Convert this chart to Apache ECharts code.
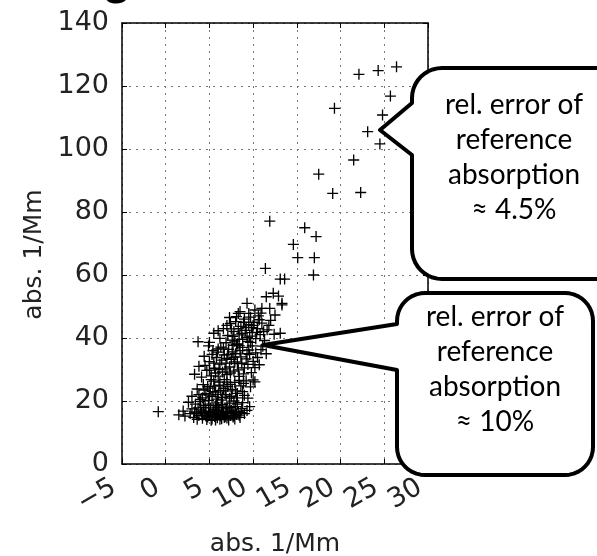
<!DOCTYPE html>
<html>
<head>
<meta charset="utf-8">
<script src="https://cdn.jsdelivr.net/npm/echarts@6/dist/echarts.min.js"></script>
<style>html,body{margin:0;padding:0;background:#fff}#c{width:597px;height:556px}</style>
</head>
<body>
<div id="c"></div>
<script>
// absorption values (x) vs reference absorption (y), 1/Mm
const pointsBottom = [
  [-0.85,16.6],[1.5,15.6],[2.2,15.2],[2.8,16.0],[3.2,14.8],[3.5,16.1],[3.8,15.4],[4.0,17.2],[4.2,14.5],[4.4,15.9],
  [4.6,16.8],[4.8,14.9],[5.0,15.5],[5.1,17.8],[5.3,14.3],[5.4,16.3],[5.6,15.1],[5.7,18.5],[5.9,14.7],[6.0,16.0],
  [6.1,17.0],[6.3,15.3],[6.4,14.4],[6.5,18.9],[6.6,16.6],[6.8,15.0],[6.9,17.5],[7.0,14.6],[7.1,16.2],[7.3,19.3],
  [7.4,15.4],[7.5,17.1],[7.7,14.9],[7.8,16.5],[8.0,18.2],[8.1,15.7],[8.3,16.6],[8.5,14.8],[8.7,17.6],[9.0,16.0],
  [9.6,18.2],[4.5,18.6],[5.8,19.4],[3.9,19.9],[6.2,14.2],[7.2,14.0],[5.2,13.9],[4.7,14.1],[8.8,19.5],[2.6,19.6],[3.4,19.0],
  [2.0,16.8],[3.0,17.5],[3.6,14.2],[4.1,16.4],[4.9,16.2],[5.5,17.3],[6.2,15.7],[6.7,14.8],[7.6,16.0],[7.9,14.3],
  [8.4,15.5],[5.3,15.6],[6.4,17.8],[7.0,18.4],[4.3,18.0],[8.2,19.0],[9.3,17.0],[3.3,16.5],[5.8,16.8],[6.9,16.4],
  [4.6,15.2],[5.1,16.6],[5.7,14.0],[6.5,15.6],[7.3,17.9],[7.8,15.2],[8.6,16.3],[3.7,17.8],[4.9,19.0],[6.0,18.0]
];
const pointsLow = [
  [3.0,21.5],[3.6,23.8],[4.0,20.5],[4.3,25.2],[4.6,22.3],[4.9,20.2],[5.1,24.1],[5.3,21.4],[5.5,26.3],[5.7,22.8],
  [5.9,20.6],[6.1,25.0],[6.3,23.3],[6.5,21.2],[6.7,26.8],[6.9,22.0],[7.1,24.6],[7.3,20.9],[7.6,23.7],[7.9,25.9],
  [8.2,22.4],[8.6,24.8],[9.0,21.8],[9.4,20.9],[10.0,26.7],[10.2,26.1],
  [3.8,22.0],[4.4,23.5],[5.0,21.9],[5.6,24.7],[6.0,22.1],[6.6,24.0],[7.0,26.0],[7.5,21.5],[8.0,23.2],[8.4,26.5],
  [8.8,23.0],[9.7,24.5],[5.2,26.8],[6.4,20.3],[7.8,20.0],[9.2,26.4],
  [4.2,21.0],[5.4,23.0],[6.2,26.0],[6.8,23.2],[7.4,25.3],[8.1,21.0],[8.9,25.6],[4.8,24.6]
];
const pointsMid = [
  [3.3,28.5],[3.8,31.0],[4.1,27.6],[4.4,34.2],[4.7,29.7],[5.0,32.5],[5.2,28.0],[5.4,36.0],[5.6,30.4],[5.8,33.8],
  [6.0,27.9],[6.2,31.7],[6.3,37.1],[6.5,29.2],[6.7,34.6],[6.9,32.0],[7.0,28.4],[7.2,36.4],[7.3,30.8],[7.5,33.2],
  [7.7,37.7],[7.8,29.5],[8.0,35.0],[8.2,31.9],[8.4,27.8],[8.6,34.0],[8.8,37.0],[9.0,30.5],[9.2,33.4],[9.5,36.2],
  [9.8,29.0],[10.0,32.6],[10.3,35.3],[10.7,31.5],[11.1,37.4],[4.9,37.5],[5.9,35.5],[8.3,29.9],
  [4.5,31.3],[5.3,34.8],[6.1,30.0],[6.6,36.8],[7.0,33.5],[7.4,28.9],[7.9,32.4],[8.5,36.0],[8.9,28.6],[9.4,31.6],
  [9.9,37.5],[10.5,33.8],[6.4,33.0],[7.6,35.6],[8.1,38.0],[5.0,29.8],[9.6,34.8],[10.9,36.3],[11.5,35.0],
  [5.5,32.0],[6.8,30.2],[7.1,34.8],[8.7,32.0],[9.3,35.0],[6.0,36.5],[7.8,33.9],[8.4,37.6],[10.2,30.6],[5.7,28.9]
];
const pointsUpperMid = [
  [3.7,38.8],[6.2,39.9],[5.5,41.5],[6.6,43.0],[6.9,38.5],[7.1,40.8],[7.4,44.6],[7.6,39.3],[7.8,42.1],[8.0,45.2],
  [8.2,38.1],[8.4,41.0],[8.6,43.7],[8.8,39.6],[9.0,46.0],[9.1,42.4],[9.3,40.2],[9.5,44.2],[9.7,38.6],[9.9,41.7],
  [10.1,45.0],[10.3,39.8],[10.5,43.0],[10.8,41.1],[11.0,44.7],[11.3,39.2],[11.6,42.6],[12.0,45.6],[13.1,41.5],[7.3,46.5],
  [8.3,47.8],[9.3,51.0],[8.5,48.4],[10.2,48.9],[11.0,49.4],[11.9,49.4],[13.3,51.0],[11.5,53.1],[12.3,54.2],[12.9,53.3],
  [13.3,50.5],[10.6,47.0],[9.7,46.6],[12.5,47.3],
  [5.0,38.6],[6.0,42.3],[7.0,44.0],[7.7,40.5],[8.3,43.0],[8.9,45.0],[9.4,38.9],[9.8,43.3],[10.4,41.8],[10.7,45.8],
  [11.2,42.0],[11.8,44.0],[12.4,41.2],[8.1,46.8],[9.5,47.8],[10.9,47.9],[7.9,39.0],
  [8.7,41.5],[9.6,40.6],[10.0,44.0],[9.2,43.4],[7.5,42.9]
];
const pointsHigh = [
  [13.1,58.7],[13.6,58.7],[11.4,62.1],[16.9,60.0],[15.1,65.5],[17.0,65.5],[14.6,69.7],[17.2,72.2],[15.9,75.0],[11.9,77.1],
  [19.1,85.9],[22.3,86.2],[17.5,92.0],[21.5,96.5],[24.5,101.6],[23.1,105.5],[24.8,110.8],[19.3,112.9],[25.7,116.8],[22.1,123.7],
  [24.3,124.9],[26.4,126.1]
];
const xTicks = {min: -5, max: 30, step: 5};
const yTicks = {min: 0, max: 140, step: 20};
const axisName = 'abs. 1/Mm';
const callout1 = ['rel. error of', 'reference', 'absorption', '≈ 4.5%'];
const callout2 = ['rel. error of', 'reference', 'absorption', '≈ 10%'];

const allPoints = [].concat(pointsBottom, pointsLow, pointsMid, pointsUpperMid, pointsHigh);

const chart = echarts.init(document.getElementById('c'), null, {renderer: 'canvas'});
const F = 'DejaVu Sans';
const plus = 'path://M-0.12,-1 L0.12,-1 L0.12,-0.12 L1,-0.12 L1,0.12 L0.12,0.12 L0.12,1 L-0.12,1 L-0.12,0.12 L-1,0.12 L-1,-0.12 L-0.12,-0.12 Z';
const grid = {left: 122, top: 23, width: 306, height: 441, containLabel: false, outerBoundsMode: 'none'};
const splitLine = {show: true, lineStyle: {color: '#777', type: [2, 5], width: 1}};
const tick = {show: true, inside: true, length: 5, lineStyle: {color: '#000', width: 1}};
const line = {show: true, onZero: false, lineStyle: {color: '#000', width: 1.5}};
const fmt = v => String(v).replace('-', '\u2212');

function arc(cx, cy, r, a0, a1) {
  const pts = [];
  for (let i = 0; i <= 10; i++) {
    const a = a0 + (a1 - a0) * i / 10;
    pts.push([cx + r * Math.cos(a), cy + r * Math.sin(a)]);
  }
  return pts;
}
function bubble(l, t, r, b, rad, pTop, tip, pBot) {
  const P = Math.PI;
  let pts = [];
  pts = pts.concat(arc(r - rad, t + rad, rad, -P / 2, 0));
  pts = pts.concat(arc(r - rad, b - rad, rad, 0, P / 2));
  pts = pts.concat(arc(l + rad, b - rad, rad, P / 2, P));
  pts.push([l, pBot], tip, [l, pTop]);
  pts = pts.concat(arc(l + rad, t + rad, rad, P, 1.5 * P));
  return pts;
}
const cf = {fontFamily: 'Lato', fontSize: 28, fill: '#000', align: 'center', verticalAlign: 'middle'};

chart.setOption({
  animation: false,
  backgroundColor: '#fff',
  grid: grid,
  xAxis: [{
    type: 'value', min: xTicks.min, max: xTicks.max, interval: xTicks.step, position: 'bottom',
    axisLine: line, axisTick: tick, splitLine: splitLine,
    axisLabel: {fontFamily: F, fontSize: 27, color: '#222', rotate: 30, margin: 17, padding: [0, 9, 0, 0], formatter: fmt},
    name: axisName, nameLocation: 'middle', nameGap: 68,
    nameTextStyle: {fontFamily: F, fontSize: 25, color: '#222'}
  }, {
    type: 'value', min: xTicks.min, max: xTicks.max, interval: xTicks.step, position: 'top',
    axisLine: line, axisTick: tick, splitLine: {show: false}, axisLabel: {show: false}
  }],
  yAxis: [{
    type: 'value', min: yTicks.min, max: yTicks.max, interval: yTicks.step, position: 'left',
    axisLine: line, axisTick: tick, splitLine: splitLine,
    axisLabel: {fontFamily: F, fontSize: 27, color: '#222', margin: 13},
    name: axisName, nameLocation: 'middle', nameGap: 75,
    nameTextStyle: {fontFamily: F, fontSize: 25, color: '#222', padding: [0, 22, 0, 0]}
  }, {
    type: 'value', min: yTicks.min, max: yTicks.max, interval: yTicks.step, position: 'right',
    axisLine: line, axisTick: tick, splitLine: {show: false}, axisLabel: {show: false}
  }],
  series: [{
    type: 'scatter', data: allPoints, symbol: plus, symbolSize: 11,
    itemStyle: {color: '#000', opacity: 1}, clip: false
  }],
  graphic: [
    {type: 'text', x: 117, y: 3, silent: true,
     style: {text: 'g', font: 'bold 46px Lato', fill: '#000', align: 'center', verticalAlign: 'bottom'}},
    {type: 'polygon', silent: true, z: 100,
     shape: {points: bubble(412, 68, 640, 279, 30, 103, [380, 130], 155)},
     style: {fill: '#fff', stroke: '#000', lineWidth: 4, lineJoin: 'round'}},
    {type: 'polygon', silent: true, z: 100,
     shape: {points: bubble(397, 293, 593, 475, 28, 324, [263, 345], 370)},
     style: {fill: '#fff', stroke: '#000', lineWidth: 4, lineJoin: 'round'}},
    ...callout1.map((t, i) => ({type: 'text', x: 514, y: 105 + i * 35, z: 101, silent: true,
      style: Object.assign({text: t}, cf)})),
    ...callout2.map((t, i) => ({type: 'text', x: 495, y: 317 + i * 35, z: 101, silent: true,
      style: Object.assign({text: t}, cf)}))
  ]
});
</script>
</body>
</html>
